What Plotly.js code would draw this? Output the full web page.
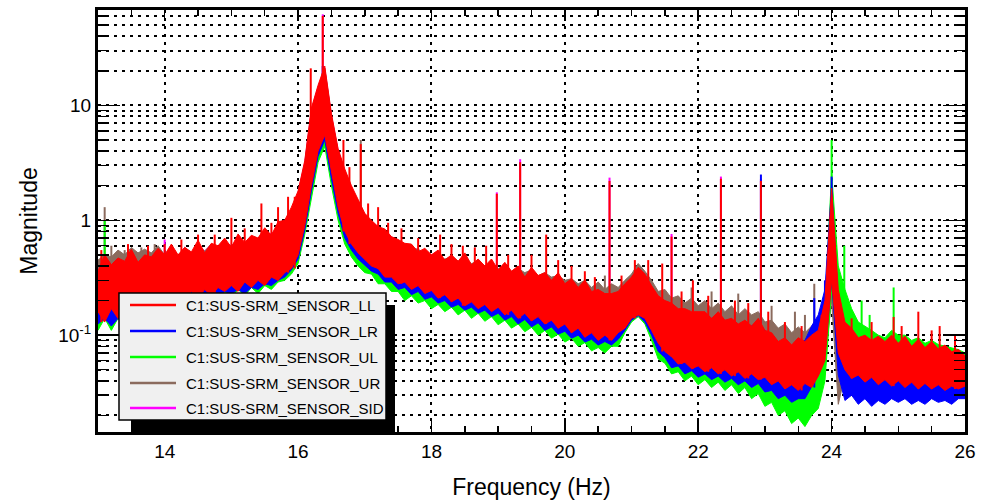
<!DOCTYPE html>
<html><head><meta charset="utf-8">
<script src="https://cdn.plot.ly/plotly-3.0.1.min.js"></script>
<style>html,body{margin:0;padding:0;background:#fff}#plot{width:987px;height:504px}</style>
</head><body><div id="plot"></div>
<script>
// Frequency grid (Hz)
const freq = [13.0,13.1,13.2,13.3,13.4,13.5,13.6,13.7,13.8,13.9,
14.0,14.1,14.2,14.3,14.4,14.5,14.6,14.7,14.8,14.9,
15.0,15.1,15.2,15.3,15.4,15.5,15.6,15.7,15.8,15.9,
16.0,16.1,16.2,16.3,16.4,16.5,16.6,16.7,16.8,16.9,
17.0,17.1,17.2,17.3,17.4,17.5,17.6,17.7,17.8,17.9,
18.0,18.1,18.2,18.3,18.4,18.5,18.6,18.7,18.8,18.9,
19.0,19.1,19.2,19.3,19.4,19.5,19.6,19.7,19.8,19.9,
20.0,20.1,20.2,20.3,20.4,20.5,20.6,20.7,20.8,20.9,
21.0,21.1,21.2,21.3,21.4,21.5,21.6,21.7,21.8,21.9,
22.0,22.1,22.2,22.3,22.4,22.5,22.6,22.7,22.8,22.9,
23.0,23.1,23.2,23.3,23.4,23.5,23.6,23.7,23.8,23.9,
24.0,24.1,24.2,24.3,24.4,24.5,24.6,24.7,24.8,24.9,
25.0,25.1,25.2,25.3,25.4,25.5,25.6,25.7,25.8,25.9,
26.0];

// C1:SUS-SRM_SENSOR_LL (red): upper / lower envelope of the noisy spectrum
const llHi = [0.36,0.5,0.41,0.47,0.44,0.56,0.43,0.5,0.48,0.57,
0.5,0.62,0.5,0.58,0.53,0.67,0.52,0.63,0.6,0.7,
0.58,0.76,0.64,0.74,0.7,0.86,0.74,0.97,1.0,1.3,
1.8,3.3,9.5,15,22,8.5,4.2,2.8,2.0,1.5,
1.15,1.0,0.88,0.84,0.72,0.68,0.63,0.62,0.53,0.57,
0.5,0.55,0.45,0.5,0.44,0.52,0.41,0.46,0.4,0.46,
0.37,0.43,0.36,0.4,0.32,0.39,0.33,0.35,0.3,0.35,
0.28,0.31,0.26,0.3,0.24,0.25,0.23,0.23,0.24,0.28,
0.32,0.39,0.34,0.27,0.22,0.2,0.19,0.17,0.17,0.16,
0.16,0.16,0.14,0.16,0.135,0.14,0.125,0.135,0.12,0.14,
0.11,0.105,0.088,0.095,0.082,0.095,0.088,0.1,0.11,0.2,
1.9,0.25,0.13,0.115,0.095,0.1,0.09,0.098,0.088,0.1,
0.085,0.098,0.08,0.092,0.078,0.088,0.076,0.082,0.072,0.075,
0.066];
const llLo = [0.16,0.13,0.17,0.14,0.16,0.13,0.17,0.15,0.18,0.16,
0.21,0.19,0.23,0.2,0.24,0.21,0.25,0.22,0.26,0.24,
0.27,0.24,0.29,0.26,0.3,0.27,0.32,0.3,0.35,0.38,
0.5,0.9,2.0,4.0,5.5,2.6,1.3,0.8,0.62,0.52,
0.46,0.4,0.38,0.32,0.32,0.28,0.29,0.25,0.27,0.23,
0.245,0.21,0.225,0.195,0.21,0.18,0.195,0.17,0.185,0.16,
0.175,0.15,0.165,0.14,0.155,0.133,0.145,0.125,0.135,0.115,
0.125,0.105,0.115,0.096,0.105,0.09,0.1,0.09,0.105,0.115,
0.14,0.15,0.14,0.11,0.085,0.072,0.065,0.056,0.058,0.051,
0.054,0.048,0.052,0.046,0.05,0.044,0.048,0.042,0.046,0.041,
0.043,0.037,0.04,0.034,0.037,0.033,0.038,0.035,0.044,0.06,
0.3,0.07,0.05,0.042,0.045,0.039,0.043,0.037,0.041,0.036,
0.04,0.035,0.039,0.034,0.038,0.034,0.037,0.033,0.036,0.034,
0.036];
const llSpikeF = [13.05,13.45,13.75,14.0,14.25,14.5,14.75,15.0,15.2,15.45,15.6,15.7,15.85,15.95,16.19,16.37,16.68,16.77,16.94,
17.05,17.2,17.35,17.55,17.8,18.13,18.3,18.47,18.65,18.82,18.98,19.15,19.33,19.5,19.72,19.9,20.1,20.3,20.45,20.67,20.85,
21.05,21.25,21.46,21.6,21.75,21.92,22.15,22.34,22.55,22.75,22.94,23.05,23.3,23.55,23.85,24.3,24.6,24.93,25.05,25.3,25.5,25.62,25.85];
const llSpikeV = [0.55,0.62,0.6,0.62,0.68,0.75,0.75,1.05,0.85,1.4,0.95,1.3,1.6,1.6,21,60,5,2.9,4.6,
1.4,1.3,0.95,0.85,0.7,0.75,0.62,0.6,0.58,0.6,1.7,0.5,3.2,0.5,0.75,0.45,0.4,0.36,0.32,2.2,0.33,
0.45,0.45,0.42,0.72,0.24,0.3,0.22,2.3,0.2,0.19,2.2,0.16,0.13,0.12,0.15,0.14,0.13,0.144,0.12,0.16,0.11,0.12,0.1];

// C1:SUS-SRM_SENSOR_LR (blue)
const lrHi = [0.34,0.42,0.38,0.44,0.4,0.46,0.41,0.45,0.43,0.49,
0.47,0.52,0.46,0.54,0.49,0.56,0.5,0.57,0.52,0.6,
0.56,0.63,0.58,0.66,0.63,0.72,0.7,0.8,0.9,1.1,
1.5,2.8,8,13,19,7.2,3.6,2.4,1.7,1.3,
1.0,0.9,0.8,0.72,0.66,0.6,0.57,0.52,0.52,0.47,
0.46,0.44,0.42,0.44,0.4,0.42,0.38,0.4,0.37,0.38,
0.35,0.37,0.33,0.34,0.31,0.32,0.3,0.3,0.28,0.28,
0.26,0.27,0.24,0.24,0.21,0.2,0.21,0.19,0.21,0.24,
0.29,0.34,0.3,0.24,0.19,0.17,0.16,0.15,0.16,0.14,
0.15,0.13,0.14,0.12,0.13,0.115,0.12,0.11,0.12,0.13,
0.11,0.09,0.085,0.082,0.08,0.085,0.09,0.12,0.15,0.25,
2.0,0.2,0.11,0.09,0.085,0.08,0.085,0.078,0.08,0.085,
0.078,0.08,0.074,0.077,0.07,0.072,0.07,0.068,0.066,0.064,
0.062];
const lrLo = [0.125,0.14,0.12,0.14,0.12,0.15,0.13,0.14,0.15,0.16,
0.18,0.2,0.18,0.21,0.19,0.22,0.2,0.23,0.21,0.24,
0.23,0.25,0.23,0.26,0.25,0.28,0.27,0.3,0.32,0.37,
0.46,0.82,1.8,3.6,5.0,2.3,1.15,0.7,0.55,0.46,
0.41,0.36,0.34,0.29,0.29,0.25,0.26,0.225,0.24,0.205,
0.215,0.19,0.2,0.175,0.185,0.165,0.175,0.155,0.165,0.145,
0.155,0.135,0.145,0.125,0.137,0.118,0.128,0.11,0.118,0.102,
0.108,0.094,0.1,0.087,0.092,0.082,0.088,0.082,0.092,0.11,
0.135,0.148,0.13,0.1,0.072,0.064,0.052,0.054,0.046,0.049,
0.043,0.046,0.041,0.044,0.039,0.042,0.037,0.04,0.035,0.038,
0.032,0.033,0.028,0.03,0.026,0.028,0.028,0.035,0.045,0.07,
0.3,0.045,0.027,0.03,0.025,0.028,0.024,0.027,0.025,0.028,
0.026,0.028,0.025,0.027,0.025,0.028,0.026,0.027,0.025,0.028,
0.028];
const lrSpikeF = [16.37,22.94,23.74,23.9,24.0];
const lrSpikeV = [22,2.5,0.21,0.3,2.4];

// C1:SUS-SRM_SENSOR_UL (green)
const ulHi = [0.32,0.4,0.36,0.42,0.38,0.44,0.4,0.43,0.41,0.47,
0.45,0.5,0.44,0.52,0.47,0.53,0.48,0.55,0.5,0.57,
0.53,0.6,0.55,0.63,0.6,0.68,0.67,0.77,0.86,1.05,
1.4,2.6,7.5,12,17,6.5,3.3,2.2,1.6,1.2,
0.95,0.85,0.76,0.68,0.62,0.56,0.54,0.5,0.49,0.45,
0.44,0.42,0.4,0.42,0.38,0.4,0.37,0.38,0.35,0.36,
0.33,0.35,0.31,0.32,0.3,0.31,0.28,0.29,0.26,0.27,
0.25,0.25,0.23,0.23,0.2,0.19,0.2,0.18,0.2,0.23,
0.27,0.32,0.29,0.23,0.18,0.16,0.15,0.14,0.15,0.13,
0.14,0.12,0.13,0.11,0.12,0.1,0.11,0.1,0.1,0.11,
0.09,0.075,0.07,0.066,0.064,0.066,0.07,0.075,0.09,0.17,
2.6,0.4,0.25,0.17,0.13,0.12,0.11,0.1,0.095,0.11,
0.1,0.1,0.09,0.095,0.085,0.09,0.083,0.08,0.078,0.075,
0.07];
const ulLo = [0.11,0.14,0.11,0.14,0.12,0.14,0.12,0.14,0.13,0.15,
0.16,0.2,0.17,0.21,0.18,0.22,0.19,0.23,0.2,0.23,
0.21,0.25,0.22,0.26,0.23,0.27,0.25,0.29,0.3,0.34,
0.42,0.75,1.6,3.2,4.4,2.0,1.0,0.62,0.48,0.4,
0.35,0.34,0.28,0.28,0.24,0.24,0.2,0.22,0.19,0.2,
0.17,0.185,0.16,0.175,0.15,0.165,0.14,0.155,0.132,0.145,
0.123,0.135,0.115,0.125,0.107,0.117,0.1,0.11,0.094,0.102,
0.087,0.094,0.08,0.086,0.073,0.078,0.07,0.08,0.08,0.105,
0.13,0.145,0.125,0.09,0.062,0.057,0.046,0.048,0.04,0.044,
0.037,0.041,0.035,0.039,0.033,0.037,0.031,0.035,0.028,0.031,
0.024,0.026,0.02,0.022,0.017,0.019,0.016,0.02,0.023,0.04,
0.25,0.08,0.052,0.05,0.044,0.045,0.042,0.043,0.041,0.042,
0.039,0.041,0.038,0.04,0.037,0.039,0.036,0.038,0.036,0.037,
0.037];
const ulSpikeF = [13.1,16.37,24.0,24.19,24.45,24.57,24.93];
const ulSpikeV = [1.0,19,5.0,0.6,0.2,0.15,0.26];

// C1:SUS-SRM_SENSOR_UR (brown)
const urHi = [0.45,0.5,0.48,0.55,0.5,0.58,0.52,0.56,0.52,0.6,
0.5,0.56,0.48,0.58,0.52,0.6,0.54,0.62,0.56,0.63,
0.6,0.67,0.62,0.71,0.68,0.77,0.75,0.87,0.96,1.2,
1.7,3.1,9,14,21,8,4,2.7,1.9,1.45,
1.1,0.96,0.86,0.77,0.71,0.64,0.62,0.57,0.56,0.51,
0.5,0.48,0.46,0.48,0.44,0.46,0.42,0.44,0.4,0.41,
0.38,0.4,0.36,0.38,0.35,0.37,0.33,0.35,0.32,0.33,
0.3,0.31,0.28,0.3,0.26,0.29,0.25,0.28,0.26,0.3,
0.34,0.42,0.36,0.3,0.24,0.25,0.21,0.22,0.19,0.21,
0.18,0.2,0.17,0.19,0.16,0.18,0.15,0.17,0.15,0.16,
0.13,0.135,0.115,0.125,0.105,0.118,0.105,0.12,0.13,0.14,
1.0,0.04,0.1,0.09,0.08,0.075,0.08,0.07,0.075,0.08,
0.07,0.075,0.068,0.07,0.065,0.068,0.063,0.062,0.06,0.058,
0.055];
const urLo = [0.17,0.19,0.16,0.18,0.17,0.19,0.17,0.18,0.19,0.2,
0.22,0.24,0.23,0.25,0.24,0.26,0.25,0.27,0.26,0.28,
0.27,0.29,0.28,0.3,0.3,0.32,0.32,0.34,0.36,0.42,
0.52,0.95,2.1,4.2,5.8,2.7,1.35,0.85,0.65,0.55,
0.48,0.43,0.39,0.36,0.33,0.31,0.3,0.29,0.28,0.27,
0.26,0.25,0.24,0.23,0.225,0.215,0.21,0.205,0.195,0.19,
0.185,0.18,0.175,0.17,0.165,0.16,0.155,0.15,0.145,0.14,
0.135,0.13,0.125,0.12,0.115,0.112,0.11,0.112,0.12,0.135,
0.155,0.165,0.155,0.125,0.1,0.085,0.075,0.07,0.067,0.065,
0.063,0.062,0.061,0.06,0.059,0.058,0.057,0.056,0.055,0.054,
0.052,0.05,0.048,0.047,0.046,0.046,0.047,0.048,0.05,0.06,
0.2,0.025,0.045,0.043,0.042,0.041,0.041,0.04,0.04,0.04,
0.04,0.04,0.039,0.039,0.038,0.038,0.037,0.037,0.037,0.036,
0.036];
const urSpikeF = [13.1,13.2,13.4,13.65,13.85,16.94,20.6,21.9,22.2,22.6,23.1,23.45,23.6,23.74];
const urSpikeV = [1.3,0.6,0.55,0.58,0.62,5.0,0.33,0.26,0.24,0.23,0.18,0.16,0.15,0.28];

// C1:SUS-SRM_SENSOR_SIDE (magenta)
const sideHi = [0.36,0.44,0.4,0.48,0.42,0.5,0.44,0.48,0.45,0.53,
0.5,0.56,0.48,0.58,0.52,0.6,0.54,0.62,0.56,0.64,
0.6,0.68,0.62,0.72,0.68,0.78,0.76,0.88,0.98,1.22,
1.75,3.2,9.2,14.5,21,8.2,4.1,2.7,1.95,1.45,
1.12,0.97,0.88,0.78,0.72,0.64,0.62,0.56,0.56,0.5,
0.5,0.48,0.45,0.48,0.43,0.45,0.41,0.43,0.39,0.4,
0.37,0.39,0.35,0.36,0.33,0.34,0.31,0.32,0.29,0.3,
0.27,0.28,0.25,0.25,0.22,0.21,0.22,0.2,0.22,0.25,
0.3,0.36,0.32,0.25,0.2,0.18,0.17,0.15,0.16,0.14,
0.15,0.13,0.14,0.12,0.13,0.11,0.12,0.11,0.11,0.12,
0.1,0.085,0.08,0.075,0.072,0.075,0.08,0.085,0.1,0.17,
1.6,0.2,0.12,0.095,0.085,0.08,0.085,0.075,0.08,0.085,
0.075,0.08,0.072,0.075,0.068,0.07,0.066,0.065,0.062,0.06,
0.058];
const sideLo = [0.14,0.16,0.13,0.15,0.13,0.16,0.14,0.15,0.16,0.17,
0.19,0.21,0.19,0.22,0.2,0.23,0.21,0.24,0.22,0.25,
0.24,0.26,0.24,0.27,0.26,0.29,0.28,0.31,0.33,0.39,
0.48,0.86,1.9,3.8,5.2,2.5,1.2,0.75,0.58,0.49,
0.43,0.39,0.35,0.32,0.29,0.27,0.26,0.25,0.235,0.235,
0.215,0.215,0.2,0.2,0.19,0.19,0.175,0.18,0.165,0.165,
0.155,0.155,0.145,0.145,0.135,0.136,0.128,0.128,0.118,0.118,
0.108,0.108,0.098,0.099,0.09,0.092,0.085,0.09,0.095,0.115,
0.135,0.145,0.135,0.105,0.08,0.068,0.058,0.056,0.051,0.052,
0.048,0.049,0.046,0.047,0.044,0.045,0.042,0.043,0.041,0.042,
0.038,0.036,0.033,0.033,0.031,0.032,0.033,0.036,0.04,0.058,
0.28,0.06,0.042,0.04,0.036,0.038,0.034,0.036,0.033,0.036,
0.032,0.035,0.031,0.034,0.031,0.033,0.03,0.032,0.03,0.031,
0.031];
const sideSpikeF = [14.0,16.37,18.98,19.33,20.67,21.6,22.34,22.94];
const sideSpikeV = [0.68,62,1.75,3.4,2.35,0.76,2.4,2.3];

const names = ['C1:SUS-SRM_SENSOR_LL','C1:SUS-SRM_SENSOR_LR','C1:SUS-SRM_SENSOR_UL','C1:SUS-SRM_SENSOR_UR','C1:SUS-SRM_SENSOR_SID'];
const colors = ['#ff0000','#0000ff','#00ff00','#8b6b5e','#ff00ff'];

// y tick labels
const yTickVals = [0.1, 1, 10];
const yTickText = ['10<sup>-1</sup>', '1', '10'];

function nearestIdx(f){let b=0,d=1e9;for(let i=0;i<freq.length;i++){const e=Math.abs(freq[i]-f);if(e<d){d=e;b=i;}}return b;}
function bandTraces(hi, lo, sf, sv, color){
  const xs = freq.concat(freq.slice().reverse());
  const ys = hi.concat(lo.slice().reverse());
  const t1 = {type:'scatter', mode:'lines', x:xs, y:ys, fill:'toself', fillcolor:color,
    line:{color:color, width:1}, hoverinfo:'skip', showlegend:false};
  const sx=[], sy=[];
  sf.forEach((f,k)=>{const i=nearestIdx(f); sx.push(f,f,null); sy.push(lo[i], sv[k], null);});
  const t2 = {type:'scatter', mode:'lines', x:sx, y:sy, line:{color:color, width:2}, hoverinfo:'skip', showlegend:false};
  return [t1,t2];
}

const data = [].concat(
  bandTraces(sideHi, sideLo, sideSpikeF, sideSpikeV, colors[4]),
  bandTraces(urHi, urLo, urSpikeF, urSpikeV, colors[3]),
  bandTraces(ulHi, ulLo, ulSpikeF, ulSpikeV, colors[2]),
  bandTraces(lrHi, lrLo, lrSpikeF, lrSpikeV, colors[1]),
  bandTraces(llHi, llLo, llSpikeF, llSpikeV, colors[0])
);

// minor y ticks (2..9 in each decade)
const yMinor = [];
for (let d=-2; d<=1; d++) for (let m=2; m<=9; m++) yMinor.push(m*Math.pow(10,d));

// plot area in pixels: x 98..965, y 10..432
const L=98, R=965, T=10, B=432;
const px = x => (x-L)/(R-L);
const py = y => (B-y)/(B-T);

const legendRows = [305, 331, 357, 383, 408];
const shapes = [
  {type:'rect', xref:'paper', yref:'paper', x0:px(131), x1:px(395), y0:py(432), y1:py(305), fillcolor:'#000', line:{width:0}, layer:'above'},
  {type:'rect', xref:'paper', yref:'paper', x0:px(119), x1:px(386), y0:py(420), y1:py(293), fillcolor:'#f0f0f0', line:{color:'#000', width:1.5}, layer:'above'}
];
const annotations = [];
legendRows.forEach((r,i)=>{
  shapes.push({type:'line', xref:'paper', yref:'paper', x0:px(130), x1:px(176), y0:py(r), y1:py(r), line:{color:colors[i], width:2.5}, layer:'above'});
  annotations.push({xref:'paper', yref:'paper', x:px(184), y:py(r), xanchor:'left', yanchor:'middle', showarrow:false,
    text:names[i], font:{family:'Liberation Sans, Arial, sans-serif', size:15, color:'#000'}});
});

const FONT = 'Liberation Sans, Arial, sans-serif';
const layout = {
  width:987, height:504,
  margin:{l:L, r:987-R, t:T, b:504-B},
  paper_bgcolor:'#fff', plot_bgcolor:'#fff',
  showlegend:false,
  font:{family:FONT, color:'#000'},
  xaxis:{
    range:[13,26], dtick:2, tick0:0,
    ticks:'inside', ticklen:11, tickwidth:1.5, tickcolor:'#000',
    minor:{dtick:0.5, ticks:'inside', ticklen:6, tickwidth:1.5, tickcolor:'#000'},
    showline:true, linewidth:3, linecolor:'#000', mirror:'allticks',
    showgrid:true, gridcolor:'#000', gridwidth:2, griddash:'3px,5px',
    zeroline:false,
    tickfont:{family:FONT, size:19, color:'#000'},
    title:{text:'Frequency (Hz)', font:{family:FONT, size:23, color:'#000'}, standoff:19}
  },
  yaxis:{
    type:'log', range:[-1.843, 1.83],
    tickmode:'array', tickvals:yTickVals, ticktext:yTickText,
    ticks:'inside', ticklen:22, tickwidth:1.5, tickcolor:'#000',
    minor:{tickmode:'array', tickvals:yMinor, ticks:'inside', ticklen:11, tickwidth:1.5, tickcolor:'#000',
           showgrid:true, gridcolor:'#000', gridwidth:2, griddash:'3px,5px'},
    showline:true, linewidth:3, linecolor:'#000', mirror:'allticks',
    showgrid:true, gridcolor:'#000', gridwidth:2, griddash:'3px,5px',
    zeroline:false,
    tickfont:{family:FONT, size:19, color:'#000'},
    title:{text:'Magnitude', font:{family:FONT, size:23, color:'#000'}, standoff:15}
  },
  shapes:shapes,
  annotations:annotations
};

Plotly.newPlot('plot', data, layout, {staticPlot:true, displayModeBar:false});
</script>
</body></html>
